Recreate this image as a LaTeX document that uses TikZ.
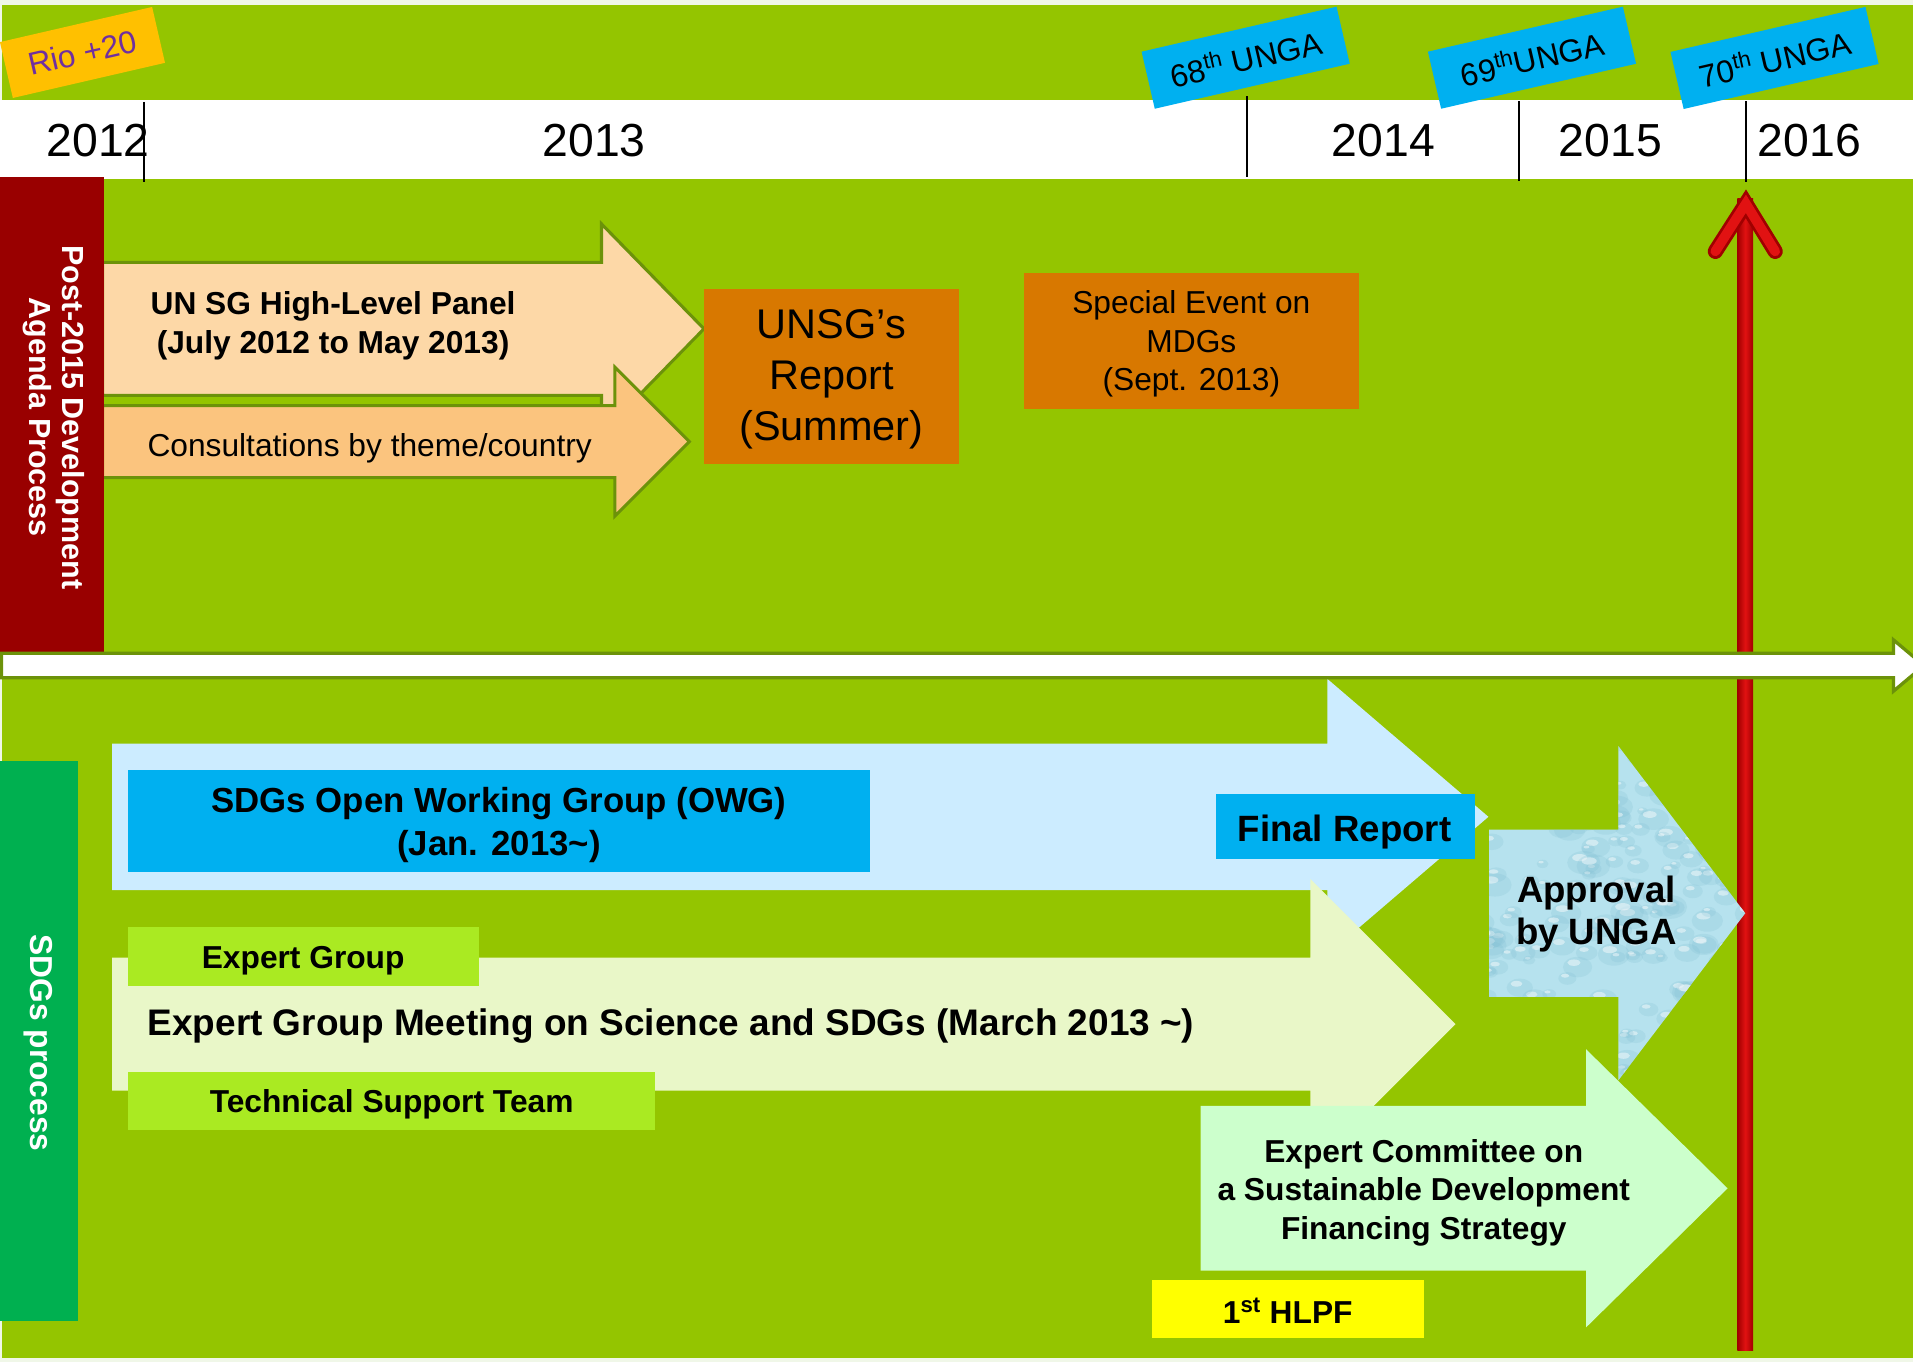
\documentclass[tikz,border=0pt]{standalone}
\usepackage{fontspec}
\setmainfont{Liberation Sans}
\definecolor{bggreen}{RGB}{148,197,0}
\definecolor{pale}{RGB}{240,247,232}
\definecolor{olive}{RGB}{108,146,10}
\definecolor{darkred}{RGB}{153,0,0}
\definecolor{sdggreen}{RGB}{0,176,80}
\definecolor{peach}{RGB}{253,216,167}
\definecolor{apricot}{RGB}{251,196,126}
\definecolor{burnt}{RGB}{216,120,0}
\definecolor{skyblue}{RGB}{0,176,240}
\definecolor{paleblue}{RGB}{204,236,255}
\definecolor{paleyg}{RGB}{233,247,200}
\definecolor{mint}{RGB}{204,255,204}
\definecolor{lime}{RGB}{170,234,34}
\definecolor{rioyellow}{RGB}{255,192,0}
\definecolor{riopurple}{RGB}{112,48,160}
\definecolor{hlpf}{RGB}{255,255,0}
\definecolor{water}{RGB}{182,226,238}
\definecolor{waterdark}{RGB}{128,190,210}
\definecolor{arrowred}{RGB}{225,18,18}
\definecolor{arrowdark}{RGB}{160,0,0}
\newcommand{\setfs}[2]{\fontsize{#1}{#2}\selectfont}
% block arrow: [options]{x0}{x head}{x tip}{y centre}{shaft half}{head half}
\newcommand{\blockarrow}[7][]{%
  \path[#1] (#2,#5-#6) -- (#3,#5-#6) -- (#3,#5-#7) -- (#4,#5) -- (#3,#5+#7) -- (#3,#5+#6) -- (#2,#5+#6) -- cycle;}
\tikzset{
  box/.style={inner sep=0pt, outer sep=0pt, draw=none},
  txt/.style={inner sep=0pt, outer sep=0pt, align=center, text=black},
  year/.style={txt, anchor=base, font=\setfs{38}{44}},
  tag/.style={rotate=13, inner sep=0pt, font=\setfs{26}{30}},
  vert/.style={rotate=-90, inner sep=0pt, align=center, text=white},
  tick/.style={draw=black, line width=1.6pt},
  outl/.style={draw=olive, line width=2.5pt, line join=miter},
}
\begin{document}
\begin{tikzpicture}[x=1pt,y=-1pt]
\useasboundingbox (0,0) rectangle (1568,1116);
\clip (0,0) rectangle (1568,1116);
% background
\fill[pale] (0,0) rectangle (1568,1116);
\fill[bggreen] (2,4) rectangle (1568,1113);
% timeline band
\fill[white] (0,82) rectangle (1568,146.5);
\node[year] (y2012) at (80.4,128.5) {2012};
\node[year] (y2013) at (487,128.5) {2013};
\node[year] (y2014) at (1134,128.5) {2014};
\node[year] (y2015) at (1320,128.5) {2015};
\node[year] (y2016) at (1483,128.5) {2016};
\draw[tick] (118,83.5) -- (118,149);
\draw[tick] (1022,79) -- (1022,145);
\draw[tick] (1245,83) -- (1245,148);
\draw[tick] (1431,83) -- (1431,149);
% rotated tags
\node[tag, fill=rioyellow, text=riopurple, minimum width=128pt, minimum height=47pt] (rio) at (67.6,43) {Rio +20};
\node[tag, fill=skyblue, minimum width=164pt, minimum height=48pt] (u68) at (1021,47.3) {68\textsuperscript{th} UNGA};
\node[tag, fill=skyblue, minimum width=164pt, minimum height=48pt] (u69) at (1255.7,47.3) {69\textsuperscript{th}UNGA};
\node[tag, fill=skyblue, minimum width=164pt, minimum height=48pt] (u70) at (1454.5,47.5) {70\textsuperscript{th} UNGA};
% upper arrows
\blockarrow[fill=peach, outl]{84}{493}{577}{269.5}{54.5}{86}
\blockarrow[fill=apricot, outl]{84}{504}{565}{362}{29.5}{61}
\node[txt, font=\bfseries\setfs{26}{32}] (hlp) at (273,267) {UN SG High-Level Panel\\(July 2012 to May 2013)};
\node[txt, anchor=base, font=\setfs{26}{31}] (cons) at (303,374.5) {Consultations by theme/country};
% left bars
\fill[darkred] (0,145) rectangle (85,534);
\node[vert, font=\bfseries\setfs{25}{27.5}] (post) at (44,342) {Post-2015 Development\\Agenda Process};
\fill[sdggreen] (0,624) rectangle (64,1083);
\node[vert, font=\bfseries\setfs{26}{30}] (sdgp) at (31,855) {SDGs process};
% orange boxes
\node[box, fill=burnt, minimum width=209pt, minimum height=143pt] (rep) at (681.5,308.5) {};
\node[txt, font=\setfs{34}{42}] (reptxt) at (681.5,311) {UNSG’s\\Report\\(Summer)};
\node[box, fill=burnt, minimum width=275pt, minimum height=111pt] (spec) at (976.5,279.5) {};
\node[txt, font=\setfs{26}{31.5}] (spectxt) at (976.5,282) {Special Event on\\MDGs\\(Sept. 2013)};
% OWG arrow
\blockarrow[fill=paleblue]{92}{1088}{1220}{669.5}{60}{113}
\node[box, fill=skyblue, minimum width=608pt, minimum height=84pt] (owg) at (409,673) {};
\node[txt, font=\bfseries\setfs{28.5}{35.5}] (owgtxt) at (409,676) {SDGs Open Working Group (OWG)\\(Jan. 2013\textasciitilde)};
\node[box, fill=skyblue, minimum width=212pt, minimum height=53pt] (fin) at (1103,677.5) {};
\node[txt, anchor=base, font=\bfseries\setfs{30}{36}] (fintxt) at (1102,690) {Final Report};
% expert group meeting arrow
\blockarrow[fill=paleyg]{92}{1074}{1193}{839.5}{54.5}{119}
\node[box, fill=lime, minimum width=288pt, minimum height=48pt] (eg) at (249,784) {};
\node[txt, anchor=base, font=\bfseries\setfs{26}{30}] (egtxt) at (248.5,794) {Expert Group};
\node[box, fill=lime, minimum width=432pt, minimum height=47pt] (tst) at (321,902.5) {};
\node[txt, anchor=base, font=\bfseries\setfs{26}{30}] (tsttxt) at (321,911.5) {Technical Support Team};
\node[txt, anchor=base, font=\bfseries\setfs{30.3}{36}] (egm) at (550,848.5) {Expert Group Meeting on Science and SDGs (March 2013 \textasciitilde)};
% red arrow
\shade[left color=arrowdark, right color=arrowdark, middle color=arrowred] (1424,163) rectangle (1437,1107);
\draw[arrowdark, line width=12.5pt, line cap=round, line join=miter] (1406,206) -- (1431,167) -- (1455,206);
\draw[arrowred, line width=8pt, line cap=round, line join=miter] (1406,206) -- (1431,167) -- (1455,206);
% approval arrow (water texture)
\begin{scope}
\blockarrow[clip]{1220.5}{1326.5}{1430.5}{748.5}{68.5}{137}
\fill[water] (1215,605) rectangle (1435,890);
\pgfmathsetseed{12}
\foreach \k in {1,...,260}{
  \pgfmathsetmacro{\bx}{1212+226*rnd}
  \pgfmathsetmacro{\by}{600+295*rnd}
  \pgfmathsetmacro{\br}{4+10*rnd}
  \fill[waterdark, opacity=.22] (\bx,\by) ellipse [x radius=\br pt, y radius=0.7*\br pt];
  \fill[white, opacity=.45] (\bx-0.25*\br,\by-0.3*\br) ellipse [x radius=0.45*\br pt, y radius=0.22*\br pt];
}
\end{scope}
\node[txt, font=\bfseries\setfs{30}{34.6}] (appr) at (1308.5,749.5) {Approval\\by UNGA};
% expert committee arrow
\blockarrow[fill=mint]{984}{1300}{1416}{974}{67.5}{114}
\node[txt, font=\bfseries\setfs{26}{31.5}] (ecom) at (1167,977.7) {Expert Committee on\\a Sustainable Development\\Financing Strategy};
\node[box, fill=hlpf, minimum width=223pt, minimum height=48pt] (hl) at (1055.5,1073) {};
\node[txt, anchor=base, font=\bfseries\setfs{26}{30}] (hltxt) at (1055.5,1084.5) {1\textsuperscript{st} HLPF};
% middle white timeline arrow
\blockarrow[fill=white, draw=olive, line width=2.7pt, line join=miter]{1.3}{1552}{1577}{545.5}{10}{21}
\end{tikzpicture}
\end{document}
